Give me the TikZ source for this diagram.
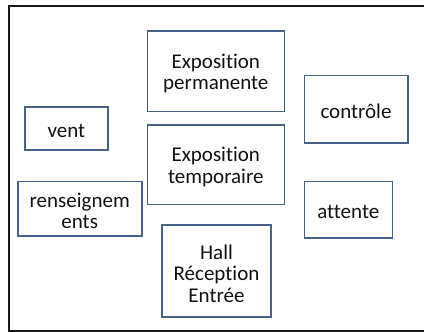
\documentclass[tikz,border=0pt]{standalone}
\usepackage{fontspec}
\setmainfont{Carlito}[Ligatures=NoCommon]
\definecolor{boxblue}{HTML}{45628A}
\definecolor{txt}{HTML}{111111}
\begin{document}
\begin{tikzpicture}[x=1pt,y=-1pt,
  room/.style={draw=boxblue,line width=1.6pt},
  roomlabel/.style={text=txt,align=center,inner sep=0pt,
    font=\fontsize{21}{21.5}\selectfont, yshift=-2.5pt}]
\useasboundingbox (0,0) rectangle (424,332);
\begin{scope}
\clip (0,0) rectangle (424,332);
\draw[line width=2pt,black!90] (9,5.5) rectangle (440,331);
\end{scope}
\draw[room] (147.3,31) rectangle (284.3,111.3) node[midway,roomlabel] (perm) {Exposition\\permanente};
\draw[room] (147.3,124.7) rectangle (284.3,204.3) node[midway,roomlabel] (temp) {Exposition\\temporaire};
\draw[room] (25,106.7) rectangle (107.7,149.7) node[midway,roomlabel] (vent) {vent};
\draw[room] (17.7,181.3) rectangle (141.7,235.7) node[midway,roomlabel] (rens) {renseignem\\ents};
\draw[room] (162,224.7) rectangle (271,317) node[midway,roomlabel] (hall) {Hall\\Réception\\Entrée};
\draw[room] (304.3,75.3) rectangle (407.7,142.7) node[midway,roomlabel] (ctrl) {contrôle};
\draw[room] (304.3,181.3) rectangle (392.3,237.7) node[midway,roomlabel] (att) {attente};
\end{tikzpicture}
\end{document}
